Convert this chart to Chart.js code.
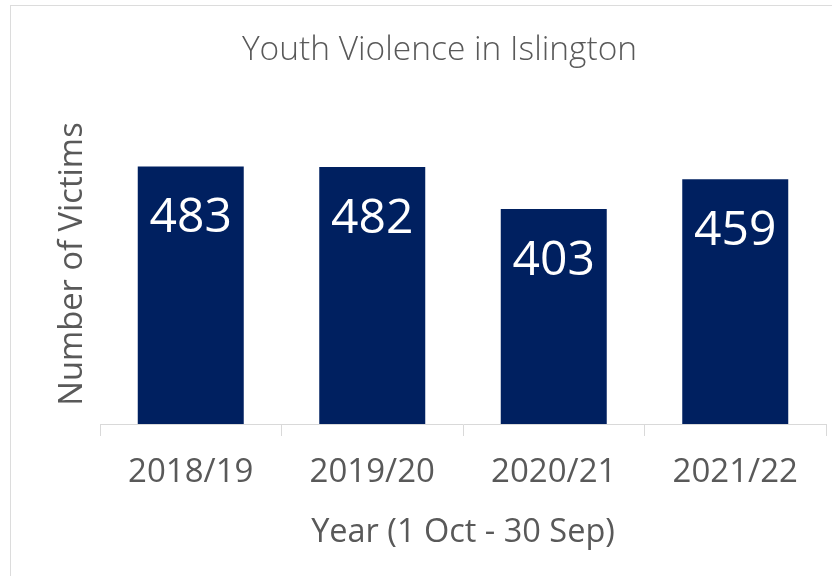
<!DOCTYPE html>
<html>
<head>
<meta charset="utf-8">
<script src="https://cdn.jsdelivr.net/npm/chart.js@4/dist/chart.umd.min.js"></script>
<style>
  html, body { margin: 0; padding: 0; background: #ffffff; overflow: hidden; width: 832px; height: 576px; }
  #frame { position: absolute; left: 10px; top: 5px; width: 900px; height: 700px;
           border-top: 1px solid #dcdcdc; border-left: 1px solid #dcdcdc; }
  #wrap { position: absolute; left: 0; top: 0; width: 870px; height: 576px; }
</style>
</head>
<body>
<div id="frame"></div>
<div id="wrap"><canvas id="c" width="870" height="576"></canvas></div>
<script>
const categories = ["2018/19", "2019/20", "2020/21", "2021/22"];
const victims = [483, 482, 403, 459];
const chartTitle = "Youth Violence in Islington";
const yTitle = "Number of Victims";
const xTitle = "Year (1 Oct - 30 Sep)";

const FONT = "'Open Sans', 'Liberation Sans', sans-serif";
const GREY = "#595959";
const NAVY = "#002060";

const barLabels = {
  id: "barLabels",
  afterDatasetsDraw(chart) {
    const ctx = chart.ctx;
    const meta = chart.getDatasetMeta(0);
    ctx.save();
    ctx.fillStyle = "#ffffff";
    ctx.font = "48px " + FONT;
    ctx.textAlign = "center";
    ctx.textBaseline = "middle";
    meta.data.forEach((bar, i) => {
      ctx.fillText(String(chart.data.datasets[0].data[i]), bar.x, bar.y + 52);
    });
    ctx.restore();
  }
};

new Chart(document.getElementById("c"), {
  type: "bar",
  data: {
    labels: categories,
    datasets: [{
      data: victims,
      backgroundColor: NAVY,
      borderWidth: 0,
      categoryPercentage: 1.0,
      barPercentage: 0.584
    }]
  },
  options: {
    responsive: false,
    animation: false,
    layout: { padding: { left: 53, right: 44, top: 0, bottom: 0 } },
    plugins: {
      legend: { display: false },
      tooltip: { enabled: false },
      title: {
        display: true,
        text: chartTitle,
        color: GREY,
        font: { family: FONT, size: 33.5, weight: 300 },
        padding: { top: 30, bottom: 33.8 }
      }
    },
    scales: {
      y: {
        min: 0,
        max: 600,
        ticks: { display: false },
        grid: { display: false },
        border: { display: false },
        title: {
          display: true,
          text: yTitle,
          color: GREY,
          font: { family: FONT, size: 32.7 },
          padding: 0
        },
        afterFit(scale) { scale.width = 47; }
      },
      x: {
        offset: true,
        grid: {
          offset: true,
          drawOnChartArea: false,
          drawTicks: true,
          tickLength: 12,
          color: "#d9d9d9"
        },
        border: { display: true, color: "#d9d9d9" },
        ticks: {
          color: GREY,
          font: { family: FONT, size: 33 },
          padding: 17
        },
        title: {
          display: true,
          text: xTitle,
          color: GREY,
          font: { family: FONT, size: 32.5 },
          padding: { top: 0, bottom: 24 }
        },
        afterFit(scale) { scale.height = 152; }
      }
    }
  },
  plugins: [barLabels]
});
</script>
</body>
</html>
